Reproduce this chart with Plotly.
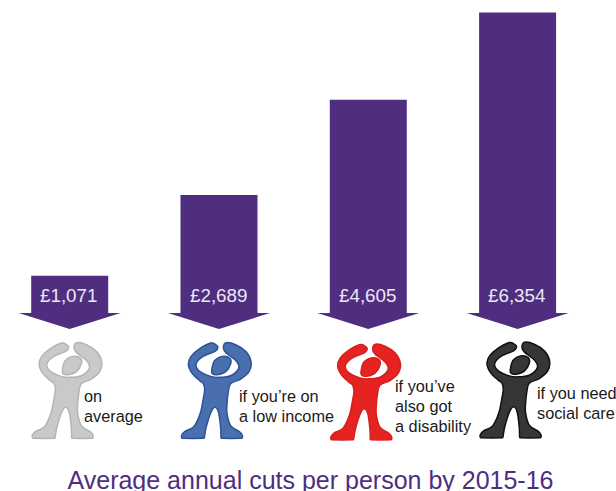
import math

import plotly.graph_objects as go

categories = ["on average", "if you're on a low income", "if you've also got a disability", "if you need social care"]
cuts = [1071, 2689, 4605, 6354]
caption_lines = [["on", "average"], ["if you\u2019re on", "a low income"], ["if you\u2019ve", "also got", "a disability"], ["if you need", "social care"]]
caption_x = [11.8, 17.5, 24.5, 17.1]
caption_y = [396, 395.5, 386, 392.6]
figure_fill = ["#c9c9c9", "#4a6fae", "#e52421", "#363636"]
figure_edge = ["#b4b4b4", "#2f5295", "#d81e1c", "#111111"]
figure_drop = [0, 0, 1.5, -0.5]

WIDTH, HEIGHT = 616, 491
PX_PER_CAT = 149.3
PX_PER_GBP = 0.0498
CAT0_PX = 69.7
ZERO_PX = 329
PURPLE = "#4f2d7f"
SHOULDER = 16 / PX_PER_GBP
ARROW_HALF = 51 / PX_PER_CAT
BAR_WIDTH = 77 / PX_PER_CAT

# Pictogram outline, traced clockwise from the left hand, on a grid of thirds of a pixel.
BODY = [(100, 8), (108, 16), (100, 28), (60, 46), (42, 68), (54, 90), (86, 104), (111, 107), (146, 102), (170, 80),
        (163, 58), (131, 32), (124, 18), (132, 3), (161, 9), (191, 29), (207, 59), (201, 90), (176, 112), (146, 126),
        (139, 150), (135, 185), (135, 215), (146, 252), (172, 270), (181, 281), (181, 288),
        (178, 290), (119, 290), (117, 288), (116, 259), (110, 214), (99, 197), (86, 214), (72, 259), (67, 288),
        (65, 290), (1, 290), (-1, 288), (-1, 281), (9, 269), (36, 254), (55, 214), (64, 170), (68, 145), (64, 126),
        (52, 116), (31, 96), (19, 68), (27, 44), (51, 22), (86, 4)]
HEAD = [(89, 86), (97, 58), (120, 44), (143, 49), (146, 66), (131, 90), (106, 99), (91, 96)]


def clamp_handle(tx, ty, limit):
    size = math.hypot(tx, ty)
    if size > limit and size > 0:
        return tx * limit / size, ty * limit / size
    return tx, ty


def smooth_closed(points, place):
    # Closed Catmull-Rom curve; handles are limited so tight corners do not overshoot.
    n = len(points)
    sx, sy = place(points[0])
    d = f"M {sx:.4f},{sy:.2f} "
    for i in range(n):
        p0, p1, p2, p3 = points[i - 1], points[i], points[(i + 1) % n], points[(i + 2) % n]
        seg = math.hypot(p2[0] - p1[0], p2[1] - p1[1]) / 2
        t1 = clamp_handle((p2[0] - p0[0]) / 6, (p2[1] - p0[1]) / 6, seg)
        t2 = clamp_handle((p3[0] - p1[0]) / 6, (p3[1] - p1[1]) / 6, seg)
        c1 = place((p1[0] + t1[0], p1[1] + t1[1]))
        c2 = place((p2[0] - t2[0], p2[1] - t2[1]))
        end = place(p2)
        d += f"C {c1[0]:.4f},{c1[1]:.2f} {c2[0]:.4f},{c2[1]:.2f} {end[0]:.4f},{end[1]:.2f} "
    return d + "Z "


def figure_path(index):
    # Place the pictogram relative to its bar, converting grid units to axis units.
    def place(pt):
        dx = pt[0] / 3 - 37
        py = 341.7 + pt[1] / 3 + figure_drop[index]
        return (index + dx / PX_PER_CAT, (ZERO_PX - py) / PX_PER_GBP)
    return smooth_closed(BODY, place) + smooth_closed(HEAD, place)


fig = go.Figure()
fig.add_trace(go.Bar(
    x=list(range(len(cuts))),
    y=[v - SHOULDER for v in cuts],
    base=SHOULDER,
    width=BAR_WIDTH,
    marker=dict(color=PURPLE, line=dict(width=0)),
    customdata=categories,
    hoverinfo="skip",
))

shapes = []
annotations = []
for i, value in enumerate(cuts):
    shapes.append(dict(
        type="path", xref="x", yref="y", layer="above",
        path=f"M {i - ARROW_HALF},{SHOULDER} L {i + ARROW_HALF},{SHOULDER} L {i},0 Z",
        fillcolor=PURPLE, line=dict(width=0),
    ))
    shapes.append(dict(
        type="path", xref="x", yref="y", layer="above", path=figure_path(i),
        fillcolor=figure_fill[i], line=dict(color=figure_edge[i], width=1.5),
    ))
    annotations.append(dict(
        x=i, xshift=-1, y=(ZERO_PX - 295) / PX_PER_GBP, xref="x", yref="y", text=f"\u00a3{value:,}", showarrow=False,
        font=dict(family="Liberation Sans", size=18.8, color="#ece8f3"),
    ))
    for line_no, line in enumerate(caption_lines[i]):
        annotations.append(dict(
            x=i, xshift=caption_x[i], xref="x", xanchor="left",
            y=(ZERO_PX - caption_y[i] - 20 * line_no) / PX_PER_GBP, yref="y", yanchor="middle",
            text=line, showarrow=False,
            font=dict(family="Liberation Sans", size=16.3, color="#1a1a1a"),
        ))

fig.update_layout(
    width=WIDTH, height=HEIGHT,
    margin=dict(l=0, r=0, t=0, b=0),
    paper_bgcolor="white", plot_bgcolor="white",
    showlegend=False,
    title=dict(
        text="Average annual cuts per person by 2015-16",
        x=310.5 / WIDTH, xanchor="center", xref="paper",
        y=1 - 480 / HEIGHT, yanchor="middle", yref="paper",
        font=dict(family="Liberation Sans", size=25, color=PURPLE),
    ),
    shapes=shapes, annotations=annotations,
    xaxis=dict(visible=False, range=[-CAT0_PX / PX_PER_CAT, (WIDTH - CAT0_PX) / PX_PER_CAT]),
    yaxis=dict(visible=False, range=[(ZERO_PX - HEIGHT) / PX_PER_GBP, ZERO_PX / PX_PER_GBP]),
)

fig.write_html("out.html")
